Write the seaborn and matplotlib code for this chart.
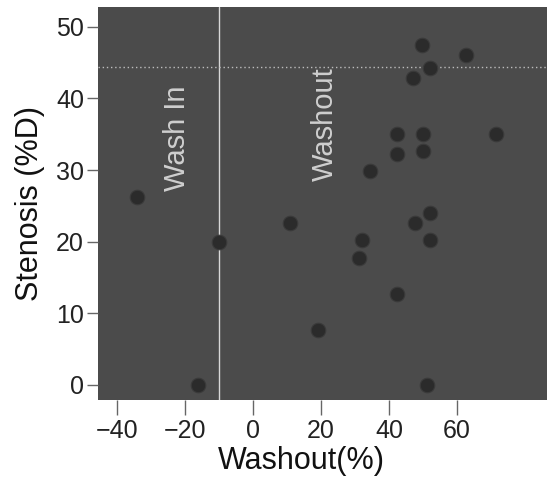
import pandas as pd
import seaborn as sns
import matplotlib.pyplot as plt

washout = [-34.2, -16.1, -10.0, 10.9, 19.2, 32.0, 31.3, 34.4, 42.3, 42.3, 42.3,
           47.2, 49.6, 52.1, 50.1, 50.1, 47.6, 52.1, 52.1, 51.1, 62.8, 71.6]
stenosis = [26.3, 0.0, 19.9, 22.6, 7.7, 20.3, 17.7, 29.9, 35.1, 32.3, 12.7,
            42.8, 47.5, 44.2, 35.1, 32.7, 22.6, 24.0, 20.3, 0.0, 46.1, 35.1]
x_ticks = [-40, -20, 0, 20, 40, 60]
y_ticks = [0, 10, 20, 30, 40, 50]

df = pd.DataFrame({"Washout": washout, "Stenosis": stenosis})

sns.set_style("ticks", {"axes.facecolor": "#4b4b4b"})
plt.rcParams["font.family"] = ["Liberation Sans", "DejaVu Sans"]

fig = plt.figure(figsize=(5.47, 4.86), dpi=100)
ax = fig.add_axes([0.179, 0.177, 0.821, 0.809])

sns.scatterplot(x="Washout", y="Stenosis", data=df, ax=ax, s=110,
                color="#2b2b2b", edgecolor="#3a3a3a", linewidth=0.8, zorder=3)

# boundary between the two regions
ax.axvline(-10, color="#d8d8d8", lw=1.0, zorder=2)
ax.axhline(44.4, color="#bdbdbd", lw=1.0, ls=(0, (1, 2)), zorder=2)

ax.text(-22.4, 34.4, "Wash In", rotation=90, ha="center", va="center",
        color="#cfcfcf", fontsize=21)
ax.text(21.2, 36.4, "Washout", rotation=90, ha="center", va="center",
        color="#cfcfcf", fontsize=21)

ax.set_xlim(-45.6, 86.5)
ax.set_ylim(-2.1, 52.8)
ax.set_xticks(x_ticks)
ax.set_yticks(y_ticks)
ax.set_xticklabels([str(t).replace("-", "\u2212") for t in x_ticks])
ax.tick_params(axis="both", labelsize=18, color="#666666", width=1.0,
               labelcolor="#222222")
ax.tick_params(axis="x", length=11, pad=3)
ax.tick_params(axis="y", length=8, pad=2)
ax.set_xlabel("Washout(%)", fontsize=22, color="#111111", labelpad=2)
ax.xaxis.label.set_x(0.454)
ax.set_ylabel("Stenosis (%D)", fontsize=22, color="#111111", labelpad=8)
for sp in ax.spines.values():
    sp.set_visible(False)

plt.savefig("out.png", dpi=100)
